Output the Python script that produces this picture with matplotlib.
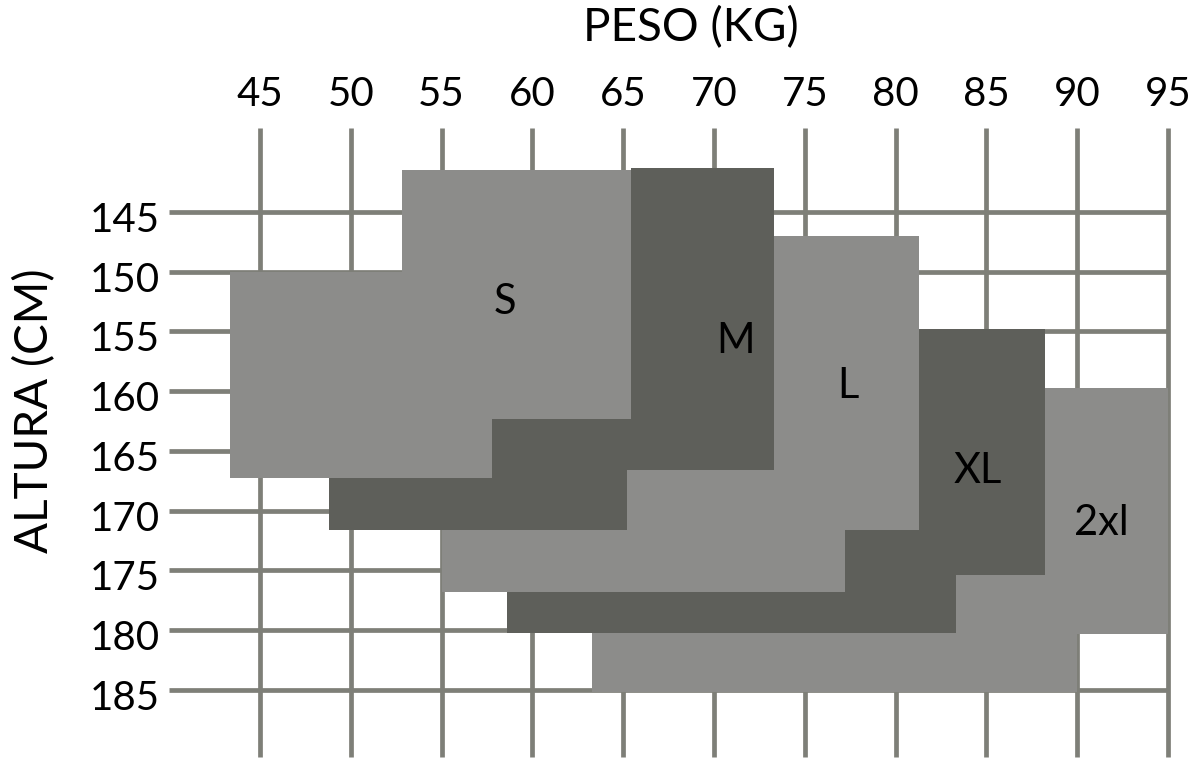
"""Tabla de tallas: peso (kg) vs altura (cm)."""
import matplotlib
matplotlib.use("Agg")
import matplotlib.pyplot as plt
from matplotlib.patches import Polygon

CLARO = "#8c8c8a"
OSCURO = "#5e5f5a"
REJILLA = "#7e7f78"

plt.rcParams["font.family"] = ["Lato", "DejaVu Sans"]

pesos = [45, 50, 55, 60, 65, 70, 75, 80, 85, 90, 95]
alturas = [145, 150, 155, 160, 165, 170, 175, 180, 185]

# contornos visibles de cada talla (peso, altura)
talla_s = [(52.8, 141.5), (65.4, 141.5), (65.4, 162.3), (57.8, 162.3), (57.8, 167.3),
           (43.35, 167.3), (43.35, 150.0), (52.8, 150.0)]
talla_m = [(65.4, 141.3), (73.3, 141.3), (73.3, 166.6), (65.2, 166.6), (65.2, 171.6),
           (48.8, 171.6), (48.8, 167.3), (57.8, 167.3), (57.8, 162.3), (65.4, 162.3)]
talla_l = [(73.3, 147.0), (81.3, 147.0), (81.3, 171.6), (77.2, 171.6), (77.2, 176.8),
           (55.0, 176.8), (55.0, 171.6), (65.2, 171.6), (65.2, 166.6), (73.3, 166.6)]
talla_xl = [(81.3, 154.8), (88.2, 154.8), (88.2, 175.4), (83.3, 175.4), (83.3, 180.2),
            (58.6, 180.2), (58.6, 176.8), (77.2, 176.8), (77.2, 171.6), (81.3, 171.6)]
talla_2xl = [(88.2, 159.7), (95.0, 159.7), (95.0, 180.3), (90.0, 180.3), (90.0, 185.2),
             (63.3, 185.2), (63.3, 180.2), (83.3, 180.2), (83.3, 175.4), (88.2, 175.4)]

tallas = [talla_s, talla_m, talla_l, talla_xl, talla_2xl]
colores = [CLARO, OSCURO, CLARO, OSCURO, CLARO]
etiquetas = ["S", "M", "L", "XL", "2xl"]
pos_etiquetas = [(58.5, 152.5), (71.2, 155.8), (77.4, 159.6), (84.5, 166.7), (91.3, 171.0)]

fig = plt.figure(figsize=(12, 7.73), dpi=100)
ax = fig.add_axes([0, 0, 1, 1])
ax.set_xlim(30.68, 96.76)
ax.set_ylim(191.95, 127.26)
ax.axis("off")

ax.hlines(alturas, 40.0, 95.0, color=REJILLA, lw=3.4, zorder=1)
ax.vlines(pesos, 138.0, 190.6, color=REJILLA, lw=3.4, zorder=1)

for pts, c in zip(tallas, colores):
    ax.add_patch(Polygon(pts, closed=True, facecolor=c, edgecolor="none", zorder=2))

for t, (x, y) in zip(etiquetas, pos_etiquetas):
    ax.text(x, y, t, ha="center", va="center", fontsize=30, color="black", zorder=3)

for p in pesos:
    ax.text(p, 135.2, str(p), ha="center", va="center", fontsize=29, color="black")
for a in alturas:
    ax.text(39.5, a + 0.7, str(a), ha="right", va="center", fontsize=29, color="black")

ax.text(68.7, 129.6, "PESO (KG)", ha="center", va="center", fontsize=33, color="black")
ax.text(32.6, 161.6, "ALTURA (CM)", ha="center", va="center", rotation=90,
        fontsize=33, color="black")

fig.savefig("out.png", dpi=100)
